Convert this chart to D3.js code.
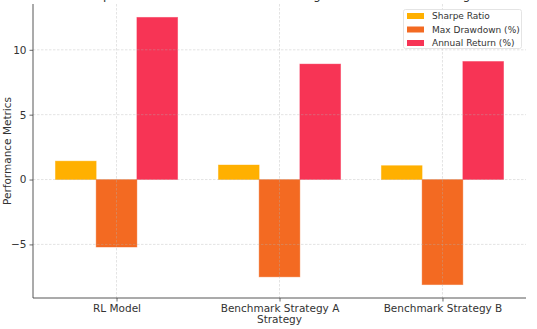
<!DOCTYPE html>
<html><head><meta charset="utf-8">
<script src="https://cdn.jsdelivr.net/npm/d3@7"></script>
<style>body{margin:0;background:#fff;}svg{display:block;font-family:"DejaVu Sans",sans-serif;}</style>
</head><body><svg id="c" width="537" height="329"></svg>
<script>
const categories = ["RL Model", "Benchmark Strategy A", "Benchmark Strategy B"];
const seriesNames = ["Sharpe Ratio", "Max Drawdown (%)", "Annual Return (%)"];
const sharpe = [1.42, 1.12, 1.07];
const drawdown = [-5.2, -7.5, -8.1];
const annualReturn = [12.5, 8.9, 9.1];
const colors = ["#FFB000", "#F36A22", "#F73455"];
const yTicks = [-5, 0, 5, 10];
const title = "Comparison of RL Model Performance Against Benchmark Strategies";

const series = [sharpe, drawdown, annualReturn];
const svg = d3.select("#c");
const L = 33, R = 526, T = 4, B = 298;
const barW = 0.25;
const x = d3.scaleLinear().domain([-0.5125, 2.5125]).range([L, R]);
const allVals = series.flat();
const lo = Math.min(0, d3.min(allVals)), hi = Math.max(0, d3.max(allVals));
const m = (hi - lo) * 0.05;
const y = d3.scaleLinear().domain([lo - m, hi + m]).range([B, T]);

// bars
series.forEach((vals, si) => {
  svg.append("g").selectAll("rect").data(vals).join("rect")
    .attr("x", (d, i) => x(i + (si - 1) * barW - barW / 2))
    .attr("width", x(barW) - x(0))
    .attr("y", d => Math.min(y(d), y(0)))
    .attr("height", d => Math.abs(y(d) - y(0)))
    .attr("fill", colors[si])
    .attr("stroke", colors[si]).attr("stroke-opacity", 0.5).attr("stroke-width", 0.8);
});

// grid
const grid = svg.append("g").attr("stroke", "#b0b0b0").attr("stroke-opacity", 0.45)
  .attr("stroke-dasharray", "2.5,1.5").attr("stroke-width", 0.8);
yTicks.forEach(t => grid.append("line").attr("x1", L).attr("x2", R).attr("y1", y(t)).attr("y2", y(t)));
categories.forEach((c, i) => grid.append("line").attr("x1", x(i)).attr("x2", x(i)).attr("y1", T).attr("y2", B));

// axes
const yAxis = svg.append("g").attr("transform", `translate(${L},0)`)
  .call(d3.axisLeft(y).tickValues(yTicks).tickSize(3.5).tickPadding(3).tickFormat(d => d < 0 ? "\u2212" + Math.abs(d) : d));
const xAxis = svg.append("g").attr("transform", `translate(0,${B})`)
  .call(d3.axisBottom(x).tickValues([0, 1, 2]).tickSize(3.5).tickPadding(3).tickFormat(i => categories[i]));
[yAxis, xAxis].forEach(a => {
  a.selectAll(".tick line").attr("stroke", "#444").attr("stroke-width", 0.8);
  a.selectAll("text").attr("fill", "#333").attr("font-size", 10.5).attr("font-family", "DejaVu Sans");
});
yAxis.select(".domain").remove();
xAxis.select(".domain").remove();
svg.append("line").attr("x1", L).attr("x2", L).attr("y1", T).attr("y2", B).attr("stroke", "#444").attr("stroke-width", 0.9);
svg.append("line").attr("x1", L).attr("x2", R).attr("y1", B).attr("y2", B).attr("stroke", "#444").attr("stroke-width", 0.9);

// labels
svg.append("text").attr("x", (L + R) / 2).attr("y", 323).attr("text-anchor", "middle")
  .attr("font-size", 10.5).attr("fill", "#333").text("Strategy");
svg.append("text").attr("transform", `translate(11,${(T + B) / 2}) rotate(-90)`).attr("text-anchor", "middle")
  .attr("font-size", 10.5).attr("fill", "#333").text("Performance Metrics");
svg.append("text").attr("x", (L + R) / 2 + 2).attr("y", -1.5).attr("text-anchor", "middle")
  .attr("font-size", 12).attr("fill", "#333").text(title);

// legend
const lg = svg.append("g");
lg.append("rect").attr("x", 403.5).attr("y", 9.5).attr("width", 118).attr("height", 39).attr("rx", 2)
  .attr("fill", "#fff").attr("fill-opacity", 0.85).attr("stroke", "#ddd").attr("stroke-width", 0.8);
seriesNames.forEach((n, i) => {
  const cy = 16 + i * 13.5;
  lg.append("rect").attr("x", 407).attr("y", cy - 3).attr("width", 17).attr("height", 6).attr("fill", colors[i]);
  lg.append("text").attr("x", 432).attr("y", cy + 3.2).attr("font-size", 9).attr("fill", "#333").text(n);
});
</script></body></html>
